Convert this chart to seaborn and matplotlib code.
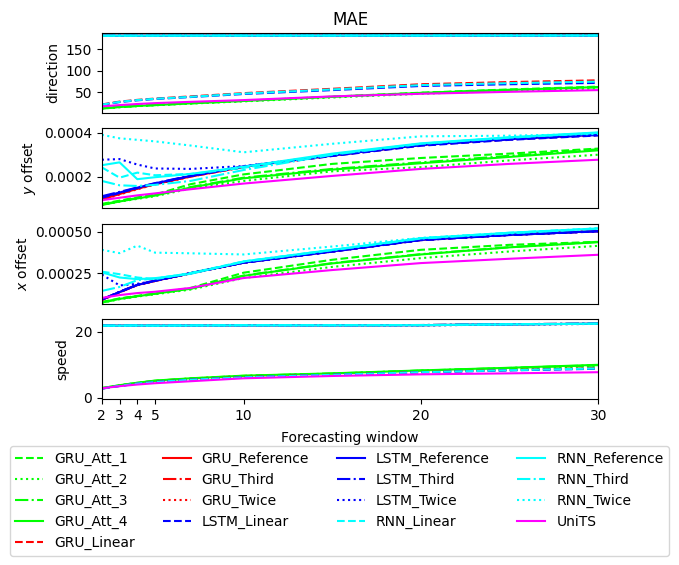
import matplotlib
matplotlib.use("Agg")
import matplotlib.pyplot as plt
import seaborn as sns

# forecasting windows
windows = [2, 3, 4, 5, 7, 10, 15, 20, 25, 30]

models = [
    "GRU_Att_1", "GRU_Att_2", "GRU_Att_3", "GRU_Att_4",
    "GRU_Linear", "GRU_Reference", "GRU_Third", "GRU_Twice",
    "LSTM_Linear", "LSTM_Reference", "LSTM_Third", "LSTM_Twice",
    "RNN_Linear", "RNN_Reference", "RNN_Third", "RNN_Twice",
    "UniTS",
]
colors = [
    "lime", "lime", "lime", "lime",
    "red", "red", "red", "red",
    "blue", "blue", "blue", "blue",
    "cyan", "cyan", "cyan", "cyan",
    "magenta",
]
styles = [
    "--", ":", "-.", "-",
    "--", "-", "-.", ":",
    "--", "-", "-.", ":",
    "--", "-", "-.", ":",
    "-",
]

# MAE per model (rows follow `models`)
direction = [
    [14.0, 17.0, 19.5, 21.5, 25.5, 31.0, 40.5, 49.5, 57.0, 63.5],
    [13.0, 16.0, 18.5, 20.5, 24.5, 29.5, 38.5, 47.0, 54.0, 59.0],
    [13.5, 16.5, 19.0, 21.0, 25.0, 30.5, 40.0, 49.0, 56.0, 62.0],
    [13.0, 16.5, 19.0, 21.0, 25.0, 30.5, 40.0, 49.0, 56.0, 62.5],
    [22.5, 29.0, 33.0, 36.0, 41.0, 48.5, 58.5, 69.0, 74.0, 78.0],
    [180.6, 180.8, 180.7, 180.9, 180.8, 180.9, 181.0, 181.0, 181.1, 181.2],
    [181.2, 181.3, 181.2, 181.4, 181.3, 181.4, 181.5, 181.5, 181.6, 181.6],
    [181.0, 181.1, 181.0, 181.2, 181.1, 181.2, 181.3, 181.3, 181.4, 181.4],
    [21.5, 28.0, 32.0, 35.0, 39.5, 46.5, 55.5, 65.0, 69.0, 72.0],
    [180.4, 180.5, 180.5, 180.6, 180.6, 180.7, 180.8, 180.8, 180.9, 181.0],
    [180.7, 180.8, 180.8, 180.9, 180.9, 181.0, 181.0, 181.1, 181.2, 181.2],
    [180.9, 181.0, 181.0, 181.1, 181.1, 181.2, 181.2, 181.3, 181.3, 181.4],
    [22.0, 28.5, 32.5, 35.5, 40.0, 47.5, 57.0, 67.0, 71.5, 75.0],
    [180.5, 180.6, 180.6, 180.7, 180.7, 180.8, 180.8, 180.9, 181.0, 181.0],
    [180.8, 180.9, 180.9, 181.0, 181.0, 181.1, 181.1, 181.2, 181.2, 181.3],
    [180.6, 180.7, 180.7, 180.8, 180.8, 180.9, 181.0, 181.0, 181.1, 181.1],
    [18.0, 21.0, 23.5, 25.5, 28.5, 32.5, 41.0, 47.0, 51.5, 55.5],
]

y_offset = [
    [0.75e-4, 0.90e-4, 1.05e-4, 1.18e-4, 1.65e-4, 2.10e-4, 2.58e-4, 2.85e-4, 3.05e-4, 3.28e-4],
    [0.70e-4, 0.85e-4, 0.98e-4, 1.10e-4, 1.45e-4, 1.80e-4, 2.24e-4, 2.43e-4, 2.74e-4, 3.00e-4],
    [0.72e-4, 0.88e-4, 1.02e-4, 1.15e-4, 1.52e-4, 1.95e-4, 2.35e-4, 2.65e-4, 2.95e-4, 3.25e-4],
    [0.70e-4, 0.86e-4, 1.00e-4, 1.13e-4, 1.50e-4, 1.92e-4, 2.32e-4, 2.61e-4, 2.90e-4, 3.20e-4],
    [1.00e-4, 1.22e-4, 1.45e-4, 1.66e-4, 2.00e-4, 2.43e-4, 2.95e-4, 3.43e-4, 3.70e-4, 3.90e-4],
    [0.95e-4, 1.20e-4, 1.44e-4, 1.65e-4, 2.00e-4, 2.44e-4, 2.97e-4, 3.45e-4, 3.72e-4, 3.92e-4],
    [1.00e-4, 1.24e-4, 1.46e-4, 1.67e-4, 2.02e-4, 2.45e-4, 2.98e-4, 3.46e-4, 3.73e-4, 3.93e-4],
    [0.92e-4, 1.18e-4, 1.42e-4, 1.64e-4, 2.00e-4, 2.44e-4, 2.96e-4, 3.44e-4, 3.71e-4, 3.91e-4],
    [1.03e-4, 1.25e-4, 1.47e-4, 1.67e-4, 2.02e-4, 2.44e-4, 2.94e-4, 3.41e-4, 3.68e-4, 3.88e-4],
    [1.06e-4, 1.27e-4, 1.49e-4, 1.69e-4, 2.03e-4, 2.46e-4, 2.97e-4, 3.45e-4, 3.72e-4, 3.92e-4],
    [1.10e-4, 1.30e-4, 1.50e-4, 1.70e-4, 2.04e-4, 2.46e-4, 2.96e-4, 3.44e-4, 3.70e-4, 3.90e-4],
    [2.77e-4, 2.80e-4, 2.55e-4, 2.37e-4, 2.35e-4, 2.48e-4, 2.98e-4, 3.45e-4, 3.72e-4, 3.92e-4],
    [2.42e-4, 1.95e-4, 2.18e-4, 2.06e-4, 2.12e-4, 2.40e-4, 3.02e-4, 3.50e-4, 3.78e-4, 4.00e-4],
    [2.52e-4, 2.65e-4, 1.88e-4, 1.97e-4, 2.12e-4, 2.45e-4, 3.05e-4, 3.52e-4, 3.80e-4, 4.02e-4],
    [1.80e-4, 1.60e-4, 1.57e-4, 1.62e-4, 1.80e-4, 2.30e-4, 3.00e-4, 3.50e-4, 3.78e-4, 4.00e-4],
    [3.91e-4, 3.75e-4, 3.68e-4, 3.61e-4, 3.42e-4, 3.11e-4, 3.50e-4, 3.84e-4, 3.87e-4, 3.95e-4],
    [0.92e-4, 1.03e-4, 1.14e-4, 1.23e-4, 1.42e-4, 1.68e-4, 2.03e-4, 2.35e-4, 2.58e-4, 2.77e-4],
]

x_offset = [
    [0.75e-4, 0.97e-4, 1.12e-4, 1.27e-4, 1.60e-4, 2.52e-4, 3.30e-4, 3.90e-4, 4.20e-4, 4.38e-4],
    [0.70e-4, 0.92e-4, 1.08e-4, 1.22e-4, 1.50e-4, 2.20e-4, 2.87e-4, 3.40e-4, 3.80e-4, 4.14e-4],
    [0.73e-4, 0.95e-4, 1.10e-4, 1.25e-4, 1.55e-4, 2.35e-4, 3.10e-4, 3.64e-4, 4.06e-4, 4.38e-4],
    [0.72e-4, 0.94e-4, 1.10e-4, 1.25e-4, 1.55e-4, 2.33e-4, 3.08e-4, 3.62e-4, 4.05e-4, 4.36e-4],
    [0.88e-4, 1.33e-4, 1.77e-4, 2.02e-4, 2.48e-4, 3.13e-4, 3.80e-4, 4.49e-4, 4.80e-4, 5.02e-4],
    [0.89e-4, 1.35e-4, 1.78e-4, 2.03e-4, 2.49e-4, 3.13e-4, 3.81e-4, 4.50e-4, 4.81e-4, 5.03e-4],
    [0.90e-4, 1.36e-4, 1.79e-4, 2.03e-4, 2.49e-4, 3.14e-4, 3.81e-4, 4.50e-4, 4.81e-4, 5.03e-4],
    [0.87e-4, 1.34e-4, 1.78e-4, 2.02e-4, 2.48e-4, 3.13e-4, 3.80e-4, 4.49e-4, 4.80e-4, 5.02e-4],
    [0.90e-4, 1.36e-4, 1.79e-4, 2.03e-4, 2.48e-4, 3.12e-4, 3.79e-4, 4.48e-4, 4.79e-4, 5.01e-4],
    [0.89e-4, 1.35e-4, 1.78e-4, 2.03e-4, 2.49e-4, 3.13e-4, 3.80e-4, 4.50e-4, 4.80e-4, 5.03e-4],
    [0.91e-4, 1.37e-4, 1.79e-4, 2.04e-4, 2.49e-4, 3.13e-4, 3.80e-4, 4.49e-4, 4.80e-4, 5.02e-4],
    [2.41e-4, 1.75e-4, 1.85e-4, 2.03e-4, 2.49e-4, 3.13e-4, 3.80e-4, 4.50e-4, 4.80e-4, 5.03e-4],
    [2.58e-4, 2.43e-4, 2.23e-4, 2.13e-4, 2.50e-4, 3.20e-4, 3.90e-4, 4.60e-4, 4.93e-4, 5.19e-4],
    [2.54e-4, 2.23e-4, 2.13e-4, 2.19e-4, 2.45e-4, 3.20e-4, 3.90e-4, 4.60e-4, 4.93e-4, 5.19e-4],
    [1.42e-4, 1.66e-4, 2.07e-4, 2.17e-4, 2.48e-4, 3.18e-4, 3.88e-4, 4.58e-4, 4.90e-4, 5.17e-4],
    [3.90e-4, 3.70e-4, 4.15e-4, 3.73e-4, 3.69e-4, 3.62e-4, 4.10e-4, 4.62e-4, 4.90e-4, 5.20e-4],
    [1.00e-4, 1.17e-4, 1.29e-4, 1.37e-4, 1.60e-4, 2.20e-4, 2.68e-4, 3.10e-4, 3.36e-4, 3.60e-4],
]

speed = [
    [2.90, 3.75, 4.50, 5.10, 5.80, 6.60, 7.30, 8.20, 9.00, 9.80],
    [2.85, 3.70, 4.40, 5.00, 5.70, 6.50, 7.20, 8.00, 8.80, 9.60],
    [2.90, 3.75, 4.50, 5.15, 5.85, 6.65, 7.35, 8.25, 9.05, 9.90],
    [2.90, 3.80, 4.55, 5.20, 5.90, 6.70, 7.40, 8.30, 9.10, 10.00],
    [2.80, 3.60, 4.30, 4.80, 5.50, 6.30, 7.00, 7.80, 8.40, 9.00],
    [21.90, 21.90, 21.95, 21.90, 21.95, 22.00, 22.00, 22.05, 22.30, 22.50],
    [21.95, 21.95, 22.00, 21.95, 22.00, 22.05, 22.05, 22.10, 22.35, 22.55],
    [21.85, 21.85, 21.90, 21.85, 21.90, 21.95, 21.95, 22.00, 22.25, 22.45],
    [2.75, 3.55, 4.25, 4.75, 5.45, 6.20, 6.95, 7.70, 8.30, 8.80],
    [21.90, 21.90, 21.95, 21.90, 21.95, 22.00, 22.00, 22.05, 22.30, 22.50],
    [21.95, 21.95, 22.00, 21.95, 22.00, 22.05, 22.05, 22.10, 22.35, 22.55],
    [21.85, 21.85, 21.90, 21.85, 21.90, 21.95, 21.95, 22.00, 22.25, 22.45],
    [2.80, 3.60, 4.30, 4.75, 5.45, 6.20, 6.95, 7.75, 8.35, 8.90],
    [21.90, 21.90, 21.95, 21.90, 21.95, 22.00, 22.00, 22.05, 22.30, 22.50],
    [21.95, 21.95, 22.00, 21.95, 22.00, 22.05, 22.05, 22.10, 22.35, 22.55],
    [21.85, 21.85, 21.90, 21.85, 21.90, 21.95, 21.95, 22.00, 22.25, 22.45],
    [2.85, 3.50, 4.00, 4.40, 5.00, 5.90, 6.60, 7.10, 7.40, 7.75],
]

panels = [
    ("direction", direction, (3.8, 186.9), [50, 100, 150]),
    ("$y$ offset", y_offset, (0.000056, 0.00042), [0.0002, 0.0004]),
    ("$x$ offset", x_offset, (0.000066, 0.000546), [0.00025, 0.0005]),
    ("speed", speed, (-0.4, 23.8), [0, 20]),
]

fig, axes = plt.subplots(4, 1, figsize=(6.79, 5.65), dpi=100, sharex=True)
fig.subplots_adjust(left=0.150, right=0.881, top=0.9416, bottom=0.2938, hspace=0.2)

for ax, (name, values, ylim, yticks) in zip(axes, panels):
    for model, col, ls, row in zip(models, colors, styles, values):
        sns.lineplot(x=windows, y=row, color=col, linestyle=ls, linewidth=1.5,
                     label=model, ax=ax, legend=False)
    ax.set_ylim(*ylim)
    ax.set_yticks(yticks)
    ax.set_ylabel(name)
    ax.tick_params(axis="x", bottom=False)

axes[0].set_title("MAE")
axes[-1].set_xlim(2, 30)
axes[-1].set_xticks([2, 3, 4, 5, 10, 20, 30])
axes[-1].tick_params(axis="x", bottom=True)
axes[-1].set_xlabel("Forecasting window", labelpad=6)

handles, labels = axes[0].get_legend_handles_labels()
fig.legend(handles, labels, loc="lower center", bbox_to_anchor=(0.5, 0.004), ncol=4)

fig.savefig("out.png", dpi=100)
